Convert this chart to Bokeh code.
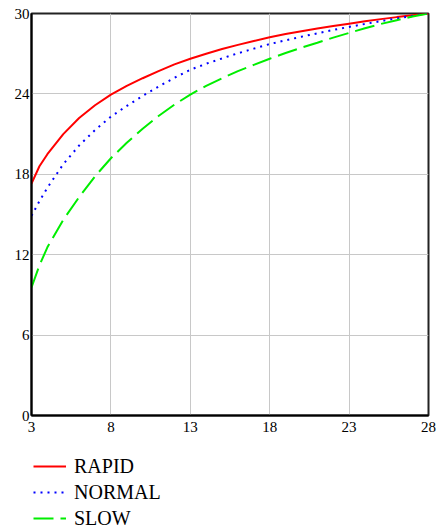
from bokeh.plotting import figure
from bokeh.models import Range1d, FixedTicker, Legend, LegendItem
from bokeh.layouts import column
from bokeh.embed import file_html
from bokeh.resources import INLINE

x_vals = [3, 3.5, 4, 5, 6, 7, 8, 9, 10, 11, 12, 13, 14, 15, 16, 17, 18, 19, 20,
          21, 22, 23, 24, 25, 26, 27, 28]
rapid = [17.3, 18.6, 19.5, 21.0, 22.2, 23.15, 23.95, 24.6, 25.17, 25.7, 26.2, 26.62,
         27.0, 27.35, 27.66, 27.95, 28.23, 28.47, 28.68, 28.88, 29.06, 29.24, 29.42,
         29.58, 29.73, 29.87, 30.0]
normal = [14.9, 16.0, 17.0, 18.75, 20.15, 21.3, 22.3, 23.1, 23.85, 24.55, 25.2, 25.8,
          26.25, 26.65, 27.03, 27.38, 27.72, 28.0, 28.27, 28.52, 28.77, 29.0, 29.22,
          29.43, 29.63, 29.82, 30.0]
slow = [9.55, 11.2, 12.55, 14.6, 16.3, 17.85, 19.2, 20.35, 21.4, 22.35, 23.2, 23.95,
        24.6, 25.17, 25.7, 26.17, 26.62, 27.05, 27.45, 27.82, 28.2, 28.55, 28.9,
        29.22, 29.5, 29.77, 30.0]
x_ticks = [3, 8, 13, 18, 23, 28]
y_ticks = [0, 6, 12, 18, 24, 30]
labels = ["RAPID", "NORMAL", "SLOW"]

FONT = "Liberation Serif"
STYLES = [dict(line_color="#ff0000", line_width=2),
          dict(line_color="#0000ff", line_width=2, line_dash="2 5"),
          dict(line_color="#00ee00", line_width=2, line_dash="20 7")]

p = figure(frame_width=397, frame_height=402, output_backend="svg",
           toolbar_location=None, x_range=Range1d(3, 28), y_range=Range1d(0, 30),
           min_border_left=31, min_border_top=13, min_border_right=17,
           min_border_bottom=30)
p.background_fill_color = "white"
p.border_fill_color = "white"
p.outline_line_color = "#222222"
p.outline_line_width = 2

for ax, ticks in ((p.xaxis[0], x_ticks), (p.yaxis[0], y_ticks)):
    ax.ticker = FixedTicker(ticks=ticks)
    ax.major_tick_out = 0
    ax.major_tick_in = 0
    ax.minor_tick_out = 0
    ax.minor_tick_in = 0
    ax.axis_line_color = "black"
    ax.axis_line_width = 2
    ax.major_label_text_font = FONT
    ax.major_label_text_font_size = "15px"
    ax.major_label_text_color = "black"
p.xaxis.major_label_standoff = 6
p.yaxis.major_label_standoff = 2

p.grid.grid_line_color = "#c8c8c8"
p.grid.grid_line_width = 1
p.xgrid.ticker = FixedTicker(ticks=x_ticks)
p.ygrid.ticker = FixedTicker(ticks=y_ticks)

for yv, st in zip((rapid, normal, slow), STYLES):
    p.line(x_vals, yv, **st)

# legend strip below the chart (its own copies of the series lie outside its ranges)
q = figure(frame_width=445, frame_height=82, output_backend="svg",
           toolbar_location=None, x_range=Range1d(-2, -1), y_range=Range1d(-2, -1),
           x_axis_location=None, y_axis_location=None,
           min_border_left=0, min_border_right=0, min_border_top=0,
           min_border_bottom=0)
q.grid.visible = False
q.outline_line_color = None
q.background_fill_color = "white"
q.border_fill_color = "white"
items = []
for lab, yv, st in zip(labels, (rapid, normal, slow), STYLES):
    r = q.line(x_vals, yv, **st)
    items.append(LegendItem(label=lab, renderers=[r]))

legend = Legend(items=items, location=(33, -4), orientation="vertical")
legend.label_text_font = FONT
legend.label_text_font_size = "20px"
legend.label_text_color = "black"
legend.glyph_width = 33
legend.glyph_height = 26
legend.label_height = 26
legend.spacing = 0
legend.padding = 0
legend.margin = 0
legend.label_standoff = 8
legend.border_line_color = None
legend.background_fill_alpha = 0
q.add_layout(legend)

open("out.html", "w").write(file_html(column(p, q, spacing=0), INLINE))
